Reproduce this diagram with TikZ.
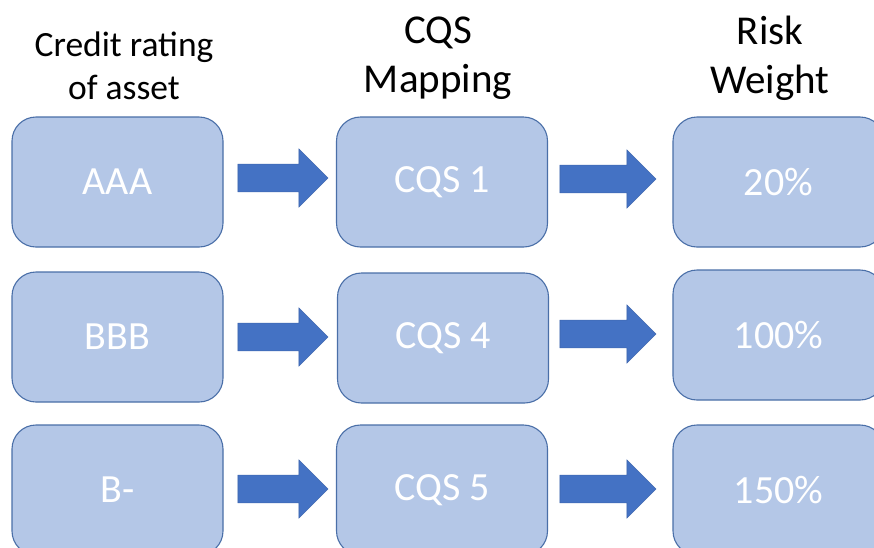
\documentclass[tikz,border=0pt]{standalone}
\usepackage{fontspec}
\setmainfont{Carlito}
\usetikzlibrary{shapes.arrows}

\definecolor{boxfill}{HTML}{B4C7E7}
\definecolor{boxline}{HTML}{4A6FA8}
\definecolor{arrowfill}{HTML}{4472C4}
\definecolor{arrowline}{HTML}{3F67B0}

\tikzset{
  ratingbox/.style={rectangle, rounded corners=24pt, draw=boxline, line width=1.1pt,
    fill=boxfill, minimum width=211pt, minimum height=130pt, inner sep=0pt,
    text=white, font=\fontsize{40}{40}\selectfont},
  blockarrow/.style={single arrow, fill=arrowfill, draw=arrowline, line width=0.6pt,
    minimum height=90pt, minimum width=58pt, single arrow head extend=15pt,
    single arrow tip angle=90, inner xsep=0pt, inner ysep=13.5pt},
  header/.style={align=center, text=black},
}

\begin{document}
\begin{tikzpicture}[x=1pt,y=-1pt]
  \useasboundingbox (0,0) rectangle (874,547);
  \clip (0,0) rectangle (874,547);
  \fill[white] (0,0) rectangle (874,547);

  % column headings
  \node[header, font=\fontsize{35.5}{43}\selectfont] (h1) at (124,66) {Credit rating\\of asset};
  \node[header, font=\fontsize{41}{49}\selectfont] (h2) at (438,58) {CQS\\Mapping};
  \node[header, font=\fontsize{41}{49}\selectfont] (h3) at (770,58) {Risk\\Weight};

  % rating boxes
  \node[ratingbox] (a1) at (117.5,182) {AAA};
  \node[ratingbox] (a2) at (117.5,337) {BBB};
  \node[ratingbox] (a3) at (117.5,490) {B-};

  % credit quality steps
  \node[ratingbox] (b1) at (442,182) {CQS 1};
  \node[ratingbox] (b2) at (443,338) {CQS 4};
  \node[ratingbox] (b3) at (442,490) {CQS 5};

  % risk weights
  \node[ratingbox] (c1) at (778.5,182) {20\%};
  \node[ratingbox] (c2) at (778.5,335) {100\%};
  \node[ratingbox] (c3) at (778.5,490) {150\%};

  % block arrows between the columns
  \node[blockarrow] (p1) at (276,178) {};
  \node[blockarrow] (p2) at (276,337) {};
  \node[blockarrow] (p3) at (276,489) {};
  \node[blockarrow, minimum height=96pt] (q1) at (601,179) {};
  \node[blockarrow, minimum height=96pt] (q2) at (601,334) {};
  \node[blockarrow, minimum height=96pt] (q3) at (601,489) {};
\end{tikzpicture}
\end{document}
